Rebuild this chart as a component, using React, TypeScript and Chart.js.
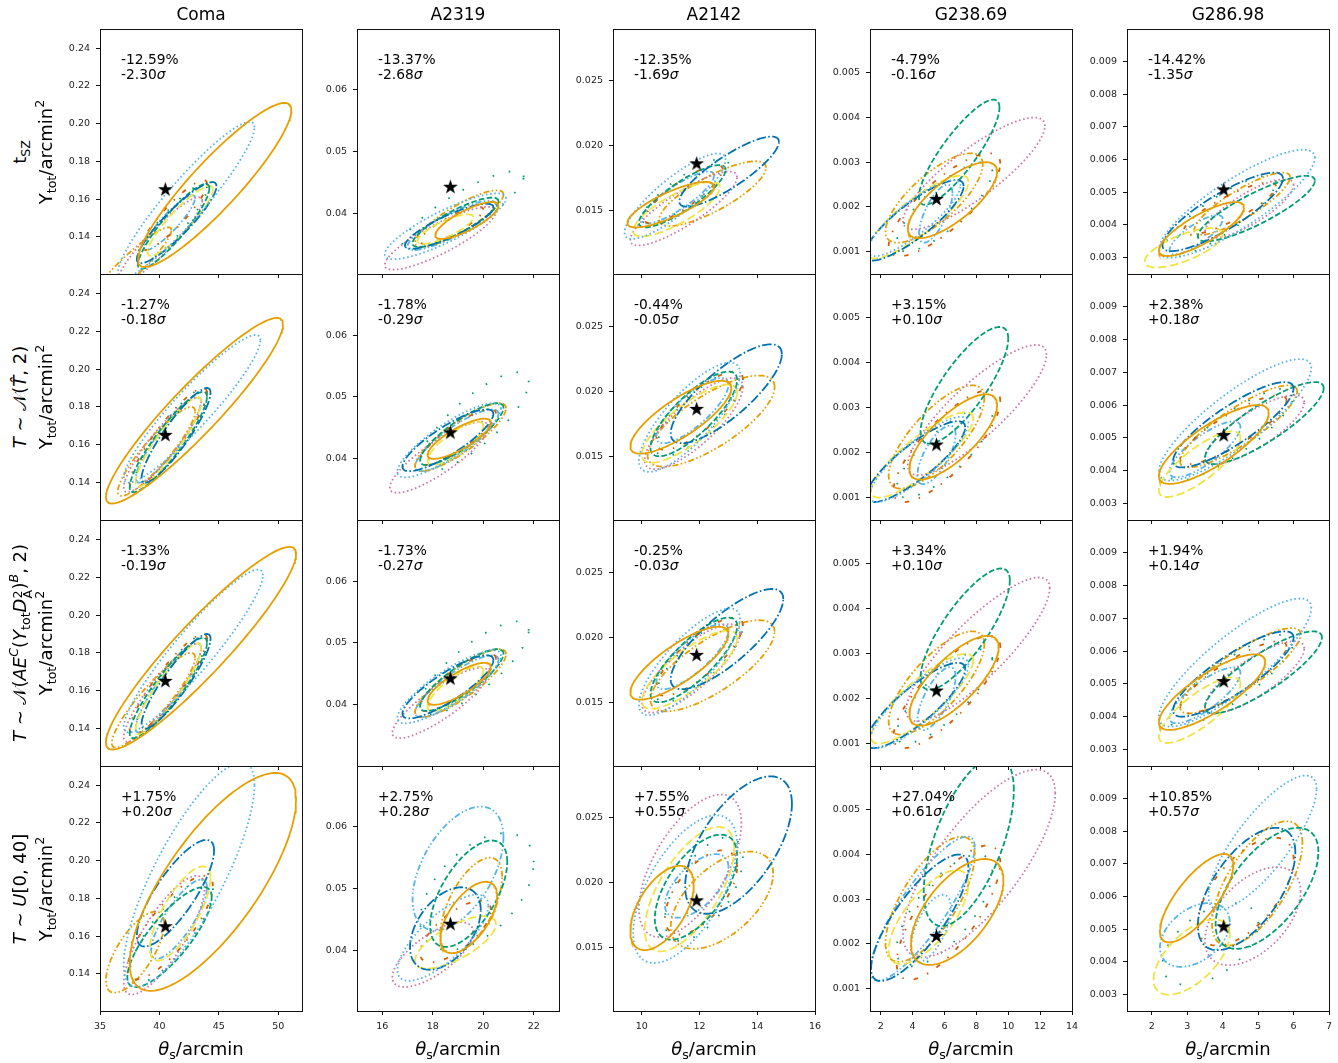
import React, { useEffect, useRef } from "react";
import { Chart, registerables } from "chart.js";

Chart.register(...registerables);

type Ell = [number, number, number, number, number]; // xmin, xmax, ymin, ymax, correlation

// ---------------- data ----------------
const CLUSTERS = ["Coma", "A2319", "A2142", "G238.69", "G286.98"];

const X_RANGES = [[35, 52], [15, 23], [9, 16], [1.33, 14], [1.3, 7]];
const Y_RANGES = [[0.1203, 0.2502], [0.0301, 0.0699], [0.0101, 0.029], [0.0005, 0.00598], [0.0025, 0.00999]];
const X_TICKS = [[35, 40, 45, 50], [16, 18, 20, 22], [10, 12, 14, 16], [2, 4, 6, 8, 10, 12, 14], [2, 3, 4, 5, 6, 7]];
const Y_TICKS = [
  [0.14, 0.16, 0.18, 0.2, 0.22, 0.24],
  [0.04, 0.05, 0.06],
  [0.015, 0.02, 0.025],
  [0.001, 0.002, 0.003, 0.004, 0.005],
  [0.003, 0.004, 0.005, 0.006, 0.007, 0.008, 0.009],
];
const Y_DECIMALS = [2, 2, 3, 3, 3];

const STAR_X = [40.5, 18.7, 11.9, 5.5, 4.03];
const STAR_Y = [0.165, 0.0442, 0.0186, 0.00217, 0.00507];

const PCT_TSZ = ["-12.59%", "-13.37%", "-12.35%", "-4.79%", "-14.42%"];
const SIG_TSZ = ["-2.30", "-2.68", "-1.69", "-0.16", "-1.35"];
const PCT_NT = ["-1.27%", "-1.78%", "-0.44%", "+3.15%", "+2.38%"];
const SIG_NT = ["-0.18", "-0.29", "-0.05", "+0.10", "+0.18"];
const PCT_NS = ["-1.33%", "-1.73%", "-0.25%", "+3.34%", "+1.94%"];
const SIG_NS = ["-0.19", "-0.27", "-0.03", "+0.10", "+0.14"];
const PCT_U = ["+1.75%", "+2.75%", "+7.55%", "+27.04%", "+10.85%"];
const SIG_U = ["+0.20", "+0.28", "+0.55", "+0.61", "+0.57"];

// contour order: orange solid, skyblue dotted, blue dashdot, green dashed, yellow long-dash,
// pink dotted, vermillion loose dashdot, orange dashdotdot, skyblue dashdotdot, green loose dotted
const COMA_TSZ: Ell[] = [
  [38.2, 51.1, 0.124, 0.211, 0.91], [36.5, 48.0, 0.118, 0.201, 0.93], [38.1, 44.8, 0.126, 0.169, 0.9],
  [38.2, 44.2, 0.123, 0.168, 0.9], [39.0, 44.5, 0.13, 0.167, 0.9], [36.5, 43.6, 0.115, 0.161, 0.92],
  [38.5, 44.0, 0.133, 0.17, 0.9], [34.0, 41.0, 0.103, 0.145, 0.93], [38.7, 43.0, 0.133, 0.162, 0.9],
  [38.0, 44.0, 0.125, 0.168, 0.9],
];
const A2319_TSZ: Ell[] = [
  [18.1, 20.6, 0.0358, 0.0418, 0.8], [16.1, 20.9, 0.0325, 0.0432, 0.85], [16.9, 20.4, 0.0342, 0.0415, 0.85],
  [17.2, 20.6, 0.0345, 0.0425, 0.85], [17.4, 19.6, 0.035, 0.0398, 0.8], [16.1, 20.5, 0.0308, 0.041, 0.85],
  [17.5, 20.0, 0.035, 0.041, 0.85], [17.3, 20.8, 0.0345, 0.0437, 0.85], [17.0, 20.5, 0.034, 0.042, 0.85],
  [16.8, 21.6, 0.034, 0.0468, 0.85],
];
const A2142_TSZ: Ell[] = [
  [9.5, 12.5, 0.0137, 0.0172, 0.8], [9.4, 12.9, 0.0128, 0.0194, 0.85], [11.3, 14.75, 0.0153, 0.0207, 0.85],
  [9.9, 12.9, 0.0137, 0.0185, 0.85], [9.7, 12.7, 0.013, 0.0172, 0.8], [9.6, 13.3, 0.0123, 0.018, 0.85],
  [10.1, 12.8, 0.014, 0.0185, 0.85], [10.6, 14.3, 0.0138, 0.0188, 0.8], [10.0, 12.5, 0.014, 0.018, 0.85],
  [10.0, 13.0, 0.014, 0.019, 0.85],
];
const G238_TSZ: Ell[] = [
  [3.7, 9.3, 0.0013, 0.003, 0.75], [1.2, 7.0, 0.0009, 0.0026, 0.85], [1.0, 7.2, 0.0008, 0.0026, 0.85],
  [4.4, 9.45, 0.00205, 0.0044, 0.85], [1.1, 7.5, 0.00085, 0.0027, 0.85], [3.4, 12.3, 0.0015, 0.004, 0.85],
  [2.5, 9.5, 0.0009, 0.0032, 0.8], [2.3, 8.4, 0.0012, 0.0032, 0.75], [4.4, 6.5, 0.0012, 0.0025, 0.7],
  [3.0, 9.0, 0.001, 0.003, 0.8],
];
const G286_TSZ: Ell[] = [
  [2.2, 4.6, 0.00305, 0.0047, 0.8], [2.2, 6.6, 0.003, 0.0063, 0.85], [2.3, 5.7, 0.0032, 0.0056, 0.85],
  [3.3, 6.6, 0.0035, 0.0055, 0.85], [1.8, 4.0, 0.0027, 0.0039, 0.7], [3.5, 6.0, 0.0036, 0.0054, 0.8],
  [2.9, 5.5, 0.0037, 0.0053, 0.85], [3.2, 5.9, 0.0037, 0.0056, 0.85], [2.5, 4.0, 0.0031, 0.0043, 0.8],
  [2.3, 5.5, 0.003, 0.0055, 0.85],
];

const COMA_NT: Ell[] = [
  [35.5, 50.4, 0.129, 0.227, 0.93], [37.0, 48.5, 0.14, 0.218, 0.93], [38.5, 44.3, 0.14, 0.19, 0.9],
  [37.5, 44.0, 0.135, 0.188, 0.9], [38.0, 43.5, 0.138, 0.185, 0.9], [37.0, 43.5, 0.135, 0.185, 0.9],
  [37.5, 44.0, 0.137, 0.19, 0.9], [36.5, 43.0, 0.133, 0.18, 0.9], [38.0, 43.5, 0.14, 0.185, 0.9],
  [38.0, 44.0, 0.14, 0.19, 0.9],
];
const A2319_NT: Ell[] = [
  [17.8, 20.3, 0.04, 0.0465, 0.8], [16.6, 20.7, 0.037, 0.049, 0.85], [16.8, 20.4, 0.038, 0.048, 0.85],
  [17.5, 20.8, 0.039, 0.049, 0.85], [17.8, 20.0, 0.039, 0.046, 0.8], [16.3, 20.2, 0.0345, 0.046, 0.85],
  [17.5, 20.5, 0.039, 0.048, 0.85], [17.3, 20.9, 0.038, 0.049, 0.85], [17.3, 20.6, 0.038, 0.048, 0.85],
  [17.5, 21.8, 0.038, 0.054, 0.8],
];
const A2142_NT: Ell[] = [
  [9.6, 13.1, 0.0152, 0.0208, 0.8], [9.9, 13.4, 0.0138, 0.0222, 0.8], [11.0, 14.85, 0.016, 0.0236, 0.8],
  [10.3, 13.3, 0.015, 0.0215, 0.8], [10.0, 13.3, 0.0145, 0.0205, 0.8], [10.1, 13.5, 0.014, 0.021, 0.8],
  [10.5, 13.5, 0.0155, 0.0215, 0.8], [10.2, 14.6, 0.0142, 0.0212, 0.75], [10.5, 13.0, 0.016, 0.021, 0.8],
  [10.5, 13.5, 0.015, 0.0215, 0.8],
];
const G238_NT: Ell[] = [
  [3.8, 9.3, 0.0014, 0.0033, 0.75], [1.3, 7.5, 0.0009, 0.0028, 0.85], [1.1, 7.3, 0.0009, 0.0027, 0.85],
  [4.5, 10.0, 0.0022, 0.0048, 0.8], [1.4, 7.8, 0.001, 0.0029, 0.85], [3.7, 12.4, 0.0015, 0.0044, 0.85],
  [2.8, 9.5, 0.0009, 0.0034, 0.8], [2.5, 8.5, 0.0012, 0.0035, 0.75], [4.3, 6.7, 0.0013, 0.0026, 0.7],
  [3.0, 9.0, 0.001, 0.003, 0.8],
];
const G286_NT: Ell[] = [
  [2.2, 5.3, 0.0036, 0.006, 0.8], [2.2, 6.5, 0.0037, 0.0074, 0.85], [2.6, 6.0, 0.0041, 0.0067, 0.85],
  [3.5, 6.85, 0.0042, 0.0067, 0.85], [2.2, 4.5, 0.0032, 0.0052, 0.8], [3.5, 6.3, 0.0042, 0.0063, 0.8],
  [2.8, 5.8, 0.0042, 0.0063, 0.85], [2.8, 6.1, 0.0041, 0.0066, 0.85], [2.5, 4.5, 0.0038, 0.0055, 0.8],
  [2.5, 6.0, 0.0037, 0.0065, 0.85],
];

const COMA_NS: Ell[] = [
  [35.5, 51.5, 0.129, 0.236, 0.93], [37.0, 48.7, 0.138, 0.224, 0.93], [38.5, 44.3, 0.14, 0.19, 0.9],
  [37.5, 44.0, 0.135, 0.188, 0.9], [38.0, 43.5, 0.137, 0.185, 0.9], [37.0, 43.5, 0.133, 0.185, 0.9],
  [37.5, 44.0, 0.137, 0.19, 0.9], [36.0, 43.0, 0.13, 0.18, 0.9], [38.0, 43.5, 0.138, 0.185, 0.9],
  [38.0, 44.0, 0.138, 0.19, 0.9],
];
const A2319_NS: Ell[] = [
  [17.8, 20.3, 0.04, 0.0468, 0.8], [16.6, 20.7, 0.037, 0.0488, 0.85], [16.8, 20.4, 0.0378, 0.048, 0.85],
  [17.5, 20.8, 0.039, 0.049, 0.85], [17.8, 20.0, 0.039, 0.0462, 0.8], [16.4, 20.2, 0.0346, 0.046, 0.85],
  [17.5, 20.5, 0.039, 0.0482, 0.85], [17.3, 20.9, 0.038, 0.049, 0.85], [17.3, 20.6, 0.038, 0.048, 0.85],
  [17.5, 21.8, 0.0385, 0.0535, 0.8],
];
const A2142_NS: Ell[] = [
  [9.6, 13.0, 0.0152, 0.0208, 0.8], [9.9, 13.4, 0.014, 0.0222, 0.8], [11.0, 14.9, 0.016, 0.0237, 0.8],
  [10.3, 13.3, 0.015, 0.0215, 0.8], [10.0, 13.3, 0.0145, 0.0205, 0.8], [10.0, 13.4, 0.0142, 0.021, 0.8],
  [10.5, 13.5, 0.0155, 0.0215, 0.8], [10.3, 14.6, 0.0143, 0.0213, 0.75], [10.5, 13.0, 0.016, 0.021, 0.8],
  [10.5, 13.5, 0.015, 0.0215, 0.8],
];
const G238_NS: Ell[] = [
  [3.8, 9.4, 0.0014, 0.0034, 0.75], [1.3, 7.5, 0.0009, 0.0029, 0.85], [1.1, 7.3, 0.0009, 0.0028, 0.85],
  [4.5, 10.1, 0.0022, 0.0049, 0.8], [1.4, 7.8, 0.001, 0.003, 0.85], [3.6, 12.6, 0.0015, 0.0047, 0.85],
  [2.8, 9.5, 0.0009, 0.0034, 0.8], [2.5, 8.5, 0.0012, 0.0035, 0.75], [4.3, 6.7, 0.0013, 0.0027, 0.7],
  [3.0, 9.0, 0.001, 0.0031, 0.8],
];
const G286_NS: Ell[] = [
  [2.2, 5.2, 0.0036, 0.0059, 0.8], [2.2, 6.5, 0.0037, 0.0076, 0.85], [2.6, 6.0, 0.004, 0.0066, 0.85],
  [3.5, 6.8, 0.0041, 0.0066, 0.85], [2.2, 4.5, 0.0032, 0.0052, 0.8], [3.5, 6.3, 0.0041, 0.0063, 0.8],
  [2.8, 5.8, 0.0041, 0.0063, 0.85], [2.8, 6.2, 0.0041, 0.0067, 0.85], [2.5, 4.5, 0.0038, 0.0055, 0.8],
  [2.5, 6.0, 0.0037, 0.0065, 0.85],
];

const COMA_U: Ell[] = [
  [37.5, 51.5, 0.131, 0.2465, 0.75], [37.0, 48.0, 0.133, 0.252, 0.8], [38.1, 44.6, 0.1545, 0.211, 0.8],
  [37.3, 44.4, 0.133, 0.186, 0.8], [39.2, 44.3, 0.147, 0.197, 0.75], [37.0, 43.8, 0.129, 0.192, 0.8],
  [37.3, 44.5, 0.137, 0.192, 0.8], [35.5, 40.4, 0.13, 0.173, 0.7], [39.3, 44.0, 0.148, 0.19, 0.8],
  [37.5, 44.5, 0.135, 0.19, 0.8],
];
const A2319_U: Ell[] = [
  [18.3, 20.55, 0.0395, 0.0511, 0.6], [16.6, 20.2, 0.035, 0.049, 0.75], [17.1, 19.9, 0.0368, 0.0502, 0.45],
  [17.9, 20.95, 0.0405, 0.0578, 0.6], [17.3, 20.5, 0.037, 0.0455, 0.7], [16.4, 19.6, 0.034, 0.0445, 0.7],
  [17.5, 20.3, 0.038, 0.048, 0.7], [18.3, 20.75, 0.0395, 0.055, 0.6], [17.2, 20.8, 0.0432, 0.0633, 0.5],
  [17.5, 22.0, 0.04, 0.059, 0.5],
];
const A2142_U: Ell[] = [
  [9.6, 11.8, 0.0148, 0.0213, 0.55], [9.7, 13.3, 0.0138, 0.0252, 0.6], [11.5, 15.2, 0.0176, 0.0282, 0.6],
  [10.45, 13.3, 0.0156, 0.0237, 0.6], [10.1, 13.2, 0.0147, 0.0243, 0.65], [9.9, 13.45, 0.0158, 0.0268, 0.6],
  [10.8, 13.3, 0.016, 0.0225, 0.6], [11.0, 14.55, 0.0149, 0.0224, 0.55], [10.8, 13.0, 0.0173, 0.0222, 0.6],
  [10.8, 13.5, 0.0155, 0.0235, 0.6],
];
const G238_U: Ell[] = [
  [3.9, 9.7, 0.00153, 0.0039, 0.6], [3.9, 6.4, 0.0016, 0.0031, 0.6], [1.4, 7.5, 0.00117, 0.004, 0.8],
  [4.7, 10.35, 0.0024, 0.0062, 0.6], [2.5, 7.5, 0.00155, 0.00365, 0.7], [3.4, 12.95, 0.0017, 0.0059, 0.75],
  [3.0, 9.5, 0.0012, 0.0042, 0.75], [2.3, 7.9, 0.0016, 0.0044, 0.7], [1.35, 7.9, 0.00118, 0.0044, 0.85],
  [3.0, 9.0, 0.0015, 0.004, 0.7],
];
const G286_U: Ell[] = [
  [2.23, 4.3, 0.0046, 0.0073, 0.75], [3.6, 6.65, 0.0056, 0.0097, 0.8], [3.3, 6.05, 0.00436, 0.0081, 0.6],
  [3.8, 6.7, 0.0044, 0.0081, 0.6], [2.05, 4.2, 0.003, 0.0053, 0.6], [3.5, 6.2, 0.0039, 0.0069, 0.5],
  [3.3, 6.0, 0.0045, 0.0078, 0.6], [3.7, 6.25, 0.0045, 0.0083, 0.65], [2.23, 4.2, 0.00385, 0.0058, 0.4],
  [2.3, 5.0, 0.0033, 0.0058, 0.5],
];

const PANEL_ELLIPSES = [
  [COMA_TSZ, A2319_TSZ, A2142_TSZ, G238_TSZ, G286_TSZ],
  [COMA_NT, A2319_NT, A2142_NT, G238_NT, G286_NT],
  [COMA_NS, A2319_NS, A2142_NS, G238_NS, G286_NS],
  [COMA_U, A2319_U, A2142_U, G238_U, G286_U],
];
const PANEL_PCT = [PCT_TSZ, PCT_NT, PCT_NS, PCT_U];
const PANEL_SIG = [SIG_TSZ, SIG_NT, SIG_NS, SIG_U];

// ---------------- styles / layout ----------------
const FONT = "'DejaVu Sans', 'Liberation Sans', sans-serif";
const STYLES = [
  { color: "#E69F00", dash: [] as number[] },
  { color: "#56B4E9", dash: [1.6, 2.6] },
  { color: "#0072B2", dash: [9.6, 2.4, 1.6, 2.4] },
  { color: "#009E73", dash: [5.6, 2.4] },
  { color: "#F0E442", dash: [8.5, 3.5] },
  { color: "#CC79A7", dash: [1.6, 2.6] },
  { color: "#D55E00", dash: [4.5, 10, 1.5, 10] },
  { color: "#E69F00", dash: [6, 2.4, 1.6, 2.4, 1.6, 2.4] },
  { color: "#56B4E9", dash: [6, 2.4, 1.6, 2.4, 1.6, 2.4] },
  { color: "#009E73", dash: [1.6, 15] },
];
const LW = 1.8;
const PANEL_LEFT = [100, 357, 613, 870, 1127];
const PANEL_W = 202;
const PANEL_TOP = [29, 274, 520, 766, 1011];
const YAXIS_W = 60;
const PAD_T = 18;
const PAD_R = 14;

function ellipsePoints(e: Ell) {
  const [x0, x1, y0, y1, r] = e;
  const cx = (x0 + x1) / 2, cy = (y0 + y1) / 2, sx = (x1 - x0) / 2, sy = (y1 - y0) / 2;
  const q = Math.sqrt(1 - r * r);
  const pts: { x: number; y: number }[] = [];
  const n = 160;
  for (let i = 0; i <= n; i++) {
    const t = (2 * Math.PI * i) / n;
    pts.push({ x: cx + sx * Math.cos(t), y: cy + sy * (r * Math.cos(t) + q * Math.sin(t)) });
  }
  return pts;
}

let STAR_IMG: HTMLCanvasElement | null = null;
function getStar() {
  if (STAR_IMG) return STAR_IMG;
  const c = document.createElement("canvas");
  c.width = 17;
  c.height = 17;
  const g = c.getContext("2d")!;
  g.fillStyle = "#000";
  g.beginPath();
  const R = 7.8, r = R * 0.382;
  for (let k = 0; k < 10; k++) {
    const a = -Math.PI / 2 + (k * Math.PI) / 5;
    const rad = k % 2 === 0 ? R : r;
    const px = 8.5 + rad * Math.cos(a), py = 8.5 + rad * Math.sin(a);
    if (k === 0) g.moveTo(px, py);
    else g.lineTo(px, py);
  }
  g.closePath();
  g.fill();
  STAR_IMG = c;
  return c;
}

const framePlugin = {
  id: "frame",
  afterDatasetsDraw(chart: any) {
    const { ctx, chartArea: a } = chart;
    ctx.save();
    ctx.strokeStyle = "#111";
    ctx.lineWidth = 1;
    ctx.strokeRect(Math.round(a.left) + 0.5, Math.round(a.top) + 0.5, Math.round(a.right - a.left), Math.round(a.bottom - a.top));
    ctx.restore();
  },
};

function Panel({ row, col }: { row: number; col: number }) {
  const ref = useRef<HTMLCanvasElement>(null);
  const bottom = row === 3;
  const h = PANEL_TOP[row + 1] - PANEL_TOP[row];
  const xAxisH = bottom ? 30 : 18;
  const width = YAXIS_W + PANEL_W + PAD_R;
  const height = PAD_T + h + xAxisH;

  useEffect(() => {
    const canvas = ref.current!;
    const ells = PANEL_ELLIPSES[row][col];
    const datasets: any[] = [
      {
        data: [{ x: STAR_X[col], y: STAR_Y[col] }],
        pointStyle: getStar(),
        pointRadius: 8,
        showLine: false,
        order: 0,
        clip: 0,
      },
    ];
    ells.forEach((e, i) => {
      const st = STYLES[i];
      datasets.push({
        data: ellipsePoints(e),
        showLine: true,
        borderColor: st.color,
        backgroundColor: st.color,
        borderWidth: LW,
        borderDash: st.dash,
        pointRadius: 0,
        pointHoverRadius: 0,
        fill: false,
        tension: 0,
        order: 1 + i,
        clip: 0,
      });
    });
    const tickFont = { family: FONT, size: 9.5 };
    const chart = new Chart(canvas, {
      type: "scatter",
      data: { datasets },
      options: {
        animation: false,
        responsive: false,
        maintainAspectRatio: false,
        events: [],
        layout: { padding: { left: 0, top: PAD_T, right: PAD_R, bottom: 0 } },
        plugins: { legend: { display: false }, tooltip: { enabled: false } },
        scales: {
          x: {
            type: "linear",
            min: X_RANGES[col][0],
            max: X_RANGES[col][1],
            afterBuildTicks: (s: any) => {
              s.ticks = X_TICKS[col].map((v) => ({ value: v }));
            },
            afterFit: (s: any) => {
              s.height = xAxisH;
            },
            grid: { drawOnChartArea: false, drawTicks: true, tickLength: 4, color: "#111", lineWidth: 1 },
            border: { display: false },
            ticks: {
              display: bottom,
              font: tickFont,
              color: "#222",
              padding: 6,
              maxRotation: 0,
              autoSkip: false,
              callback: (v: any) => String(v),
            },
          },
          y: {
            type: "linear",
            min: Y_RANGES[col][0],
            max: Y_RANGES[col][1],
            afterBuildTicks: (s: any) => {
              s.ticks = Y_TICKS[col].map((v) => ({ value: v }));
            },
            afterFit: (s: any) => {
              s.width = YAXIS_W;
            },
            grid: { drawOnChartArea: false, drawTicks: true, tickLength: 4, color: "#111", lineWidth: 1 },
            border: { display: false },
            ticks: {
              font: tickFont,
              color: "#222",
              padding: 6,
              autoSkip: false,
              callback: (v: any) => Number(v).toFixed(Y_DECIMALS[col]),
            },
          },
        },
      } as any,
      plugins: [framePlugin],
    });
    return () => chart.destroy();
  }, [row, col]);

  return (
    <canvas
      ref={ref}
      width={width}
      height={height}
      style={{ position: "absolute", left: PANEL_LEFT[col] - YAXIS_W, top: PANEL_TOP[row] - PAD_T, width, height }}
    />
  );
}

const Sub = ({ children }: any) => (
  <span style={{ fontSize: "0.7em", position: "relative", top: "0.3em" }}>{children}</span>
);
const Sup = ({ children }: any) => (
  <span style={{ fontSize: "0.7em", position: "relative", top: "-0.6em" }}>{children}</span>
);

const YLABEL = (
  <span>
    Y<Sub>tot</Sub>/arcmin<Sup>2</Sup>
  </span>
);

const ROW_TITLES = [
  <span>
    t<Sub>SZ</Sub>
  </span>,
  <span>
    <i>T</i> ∼ 𝒩(<i>T̂</i>, 2)
  </span>,
  <span>
    <i>T</i> ∼ 𝒩(<i>AE</i>
    <Sup>
      <i>C</i>
    </Sup>
    (<i>Y</i>
    <Sub>tot</Sub>
    <i>D</i>
    <span style={{ display: "inline-block", position: "relative", width: "0.5em", height: 0 }}>
      <span style={{ position: "absolute", left: 0, top: "-1.15em", fontSize: "0.7em", lineHeight: 1 }}>2</span>
      <span style={{ position: "absolute", left: 0, top: "-0.35em", fontSize: "0.7em", lineHeight: 1 }}>A</span>
    </span>
    )
    <Sup>
      <i>B</i>
    </Sup>
    , 2)
  </span>,
  <span>
    <i>T</i> ∼ <i>U</i>[0, 40]
  </span>,
];

function RotLabel({ cx, cy, children }: any) {
  const W = 320, H = 22;
  return (
    <div
      style={{
        position: "absolute",
        left: cx - W / 2,
        top: cy - H / 2,
        width: W,
        height: H,
        lineHeight: H + "px",
        fontSize: 18,
        textAlign: "center",
        whiteSpace: "nowrap",
        transform: "rotate(-90deg)",
        color: "#000",
      }}
    >
      {children}
    </div>
  );
}

export default function App() {
  const panels: any[] = [];
  const notes: any[] = [];
  for (let r = 0; r < 4; r++) {
    for (let c = 0; c < 5; c++) {
      panels.push(<Panel key={`p${r}-${c}`} row={r} col={c} />);
      notes.push(
        <div
          key={`n${r}-${c}`}
          style={{
            position: "absolute",
            left: PANEL_LEFT[c] + 21,
            top: PANEL_TOP[r] + 23,
            fontSize: 13.8,
            lineHeight: "14.7px",
            whiteSpace: "nowrap",
            color: "#000",
          }}
        >
          {PANEL_PCT[r][c]}
          <br />
          {PANEL_SIG[r][c]}
          <i>σ</i>
        </div>
      );
    }
  }
  return (
    <div
      style={{
        position: "absolute",
        left: 0,
        top: 0,
        width: 1338,
        height: 1063,
        background: "#fff",
        fontFamily: FONT,
        overflow: "hidden",
      }}
    >
      {panels}
      {notes}
      {CLUSTERS.map((name, c) => (
        <div
          key={`t${c}`}
          style={{
            position: "absolute",
            left: PANEL_LEFT[c],
            width: PANEL_W,
            top: 4,
            textAlign: "center",
            fontSize: 17,
            lineHeight: "20px",
            color: "#000",
          }}
        >
          {name}
        </div>
      ))}
      {CLUSTERS.map((_, c) => (
        <div
          key={`x${c}`}
          style={{
            position: "absolute",
            left: PANEL_LEFT[c],
            width: PANEL_W,
            top: 1039,
            textAlign: "center",
            fontSize: 18,
            lineHeight: "20px",
            whiteSpace: "nowrap",
            color: "#000",
          }}
        >
          <i>θ</i>
          <Sub>s</Sub>/arcmin
        </div>
      ))}
      {ROW_TITLES.map((t, r) => {
        const cy = (PANEL_TOP[r] + PANEL_TOP[r + 1]) / 2;
        return (
          <React.Fragment key={`r${r}`}>
            <RotLabel cx={20} cy={cy}>
              {t}
            </RotLabel>
            <RotLabel cx={46} cy={cy}>
              {YLABEL}
            </RotLabel>
          </React.Fragment>
        );
      })}
    </div>
  );
}
